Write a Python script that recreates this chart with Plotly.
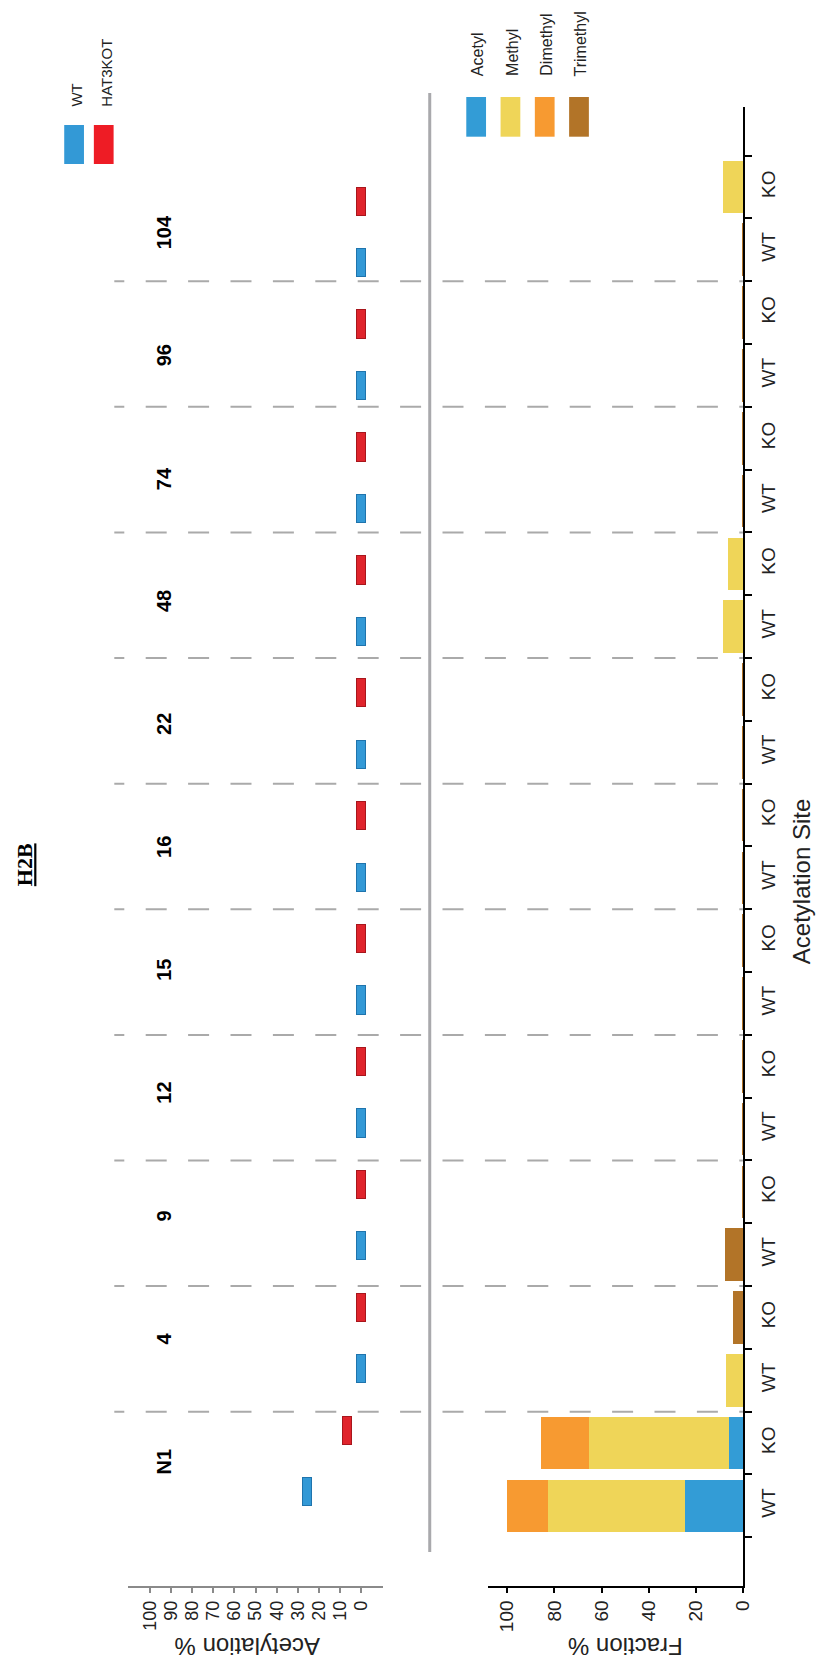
import plotly.graph_objects as go

# ---- data ---------------------------------------------------------------
sites = ["N1", "4", "9", "12", "15", "16", "22", "48", "74", "96", "104"]
genotypes = ["WT", "KO"]

# acetylation level per site (%)
acetylation_wt = [25.2, 0, 0, 0, 0, 0, 0, 0, 0, 0, 0]
acetylation_ko = [6.4, 0, 0, 0, 0, 0, 0, 0, 0, 0, 0]

# modification fractions per site (%)
acetyl_wt = [24.8, 0, 0, 0, 0, 0, 0, 0, 0, 0, 0]
acetyl_ko = [6.0, 0, 0, 0, 0, 0, 0, 0, 0, 0, 0]
methyl_wt = [57.8, 7.2, 0, 0, 0, 0, 0, 8.6, 0, 0, 0]
methyl_ko = [59.5, 0, 0, 0, 0, 0, 0, 6.4, 0, 0, 8.6]
dimethyl_wt = [17.5, 0, 0, 0, 0, 0, 0, 0, 0, 0, 0]
dimethyl_ko = [20.3, 0, 0, 0, 0, 0, 0, 0, 0, 0, 0]
trimethyl_wt = [0, 0, 7.7, 0.5, 0.5, 0.5, 0.5, 0, 0.5, 0.5, 0.5]
trimethyl_ko = [0, 4.3, 0.5, 0.5, 0.5, 0.5, 0.5, 0, 0.5, 0.5, 0]

acet_ticks = list(range(0, 101, 10))
frac_ticks = list(range(0, 101, 20))

# ---- style --------------------------------------------------------------
W, H = 825, 1659
BLUE, BLUE_EDGE = "#3399d6", "#1f74ad"
RED, RED_EDGE = "#e0242c", "#a8161c"
LEG_RED = "#ee1c25"
MOD_COLORS = {"Acetyl": "#339cd6", "Methyl": "#efd558",
              "Dimethyl": "#f79a31", "Trimethyl": "#b27428"}
NARROW = "Liberation Sans Narrow, Arial Narrow, Liberation Sans, Arial"
SANS = "Liberation Sans, Arial"
INK = "#222222"


def px(x):
    return x / W


def py(y):
    return 1 - y / H


# interleave WT / KO per site for the fraction panel
def interleave(a, b):
    out = []
    for u, v in zip(a, b):
        out += [u, v]
    return out


n_sites = len(sites)
row_pos = list(range(2 * n_sites))
row_text = [g for _ in sites for g in genotypes]

fig = go.Figure()

# acetylation markers (thin floating bars centred on the value)
thick = 4.2
site_idx = list(range(n_sites))
for vals, off, fill, edge, name in [
    (acetylation_wt, -0.25, BLUE, BLUE_EDGE, "WT"),
    (acetylation_ko, 0.25, RED, RED_EDGE, "HAT3KOT"),
]:
    fig.add_trace(go.Bar(
        orientation="h", name=name,
        y=[i + off for i in site_idx],
        x=[thick] * n_sites,
        base=[v - thick / 2 for v in vals],
        width=0.23,
        marker=dict(color=fill, line=dict(color=edge, width=1)),
        xaxis="x", yaxis="y", showlegend=False,
    ))

# stacked modification fractions
for name, wt, ko in [
    ("Acetyl", acetyl_wt, acetyl_ko),
    ("Methyl", methyl_wt, methyl_ko),
    ("Dimethyl", dimethyl_wt, dimethyl_ko),
    ("Trimethyl", trimethyl_wt, trimethyl_ko),
]:
    fig.add_trace(go.Bar(
        orientation="h", name=name,
        y=row_pos, x=interleave(wt, ko),
        width=0.84,
        marker=dict(color=MOD_COLORS[name], line=dict(width=0)),
        xaxis="x2", yaxis="y2", showlegend=False,
    ))

dom_y = [py(1585.7), py(107)]

fig.update_layout(
    width=W, height=H,
    margin=dict(l=0, r=0, t=0, b=0),
    paper_bgcolor="white", plot_bgcolor="rgba(0,0,0,0)",
    barmode="stack", bargap=0,
    showlegend=False,
    xaxis=dict(
        domain=[px(130), px(388)], range=[110.1, -10.3], anchor="y",
        showline=True, linecolor="#8a8a8a", linewidth=1.5,
        ticks="outside", ticklen=6, tickwidth=1.5, tickcolor="#8a8a8a",
        tickmode="array", tickvals=acet_ticks, tickangle=-90,
        tickfont=dict(family=NARROW, size=18, color=INK),
        showgrid=False, zeroline=False,
    ),
    yaxis=dict(
        domain=dom_y, range=[-1.011, 11.02], anchor="x",
        visible=False, showgrid=False, zeroline=False,
    ),
    xaxis2=dict(
        domain=[px(494), px(752.3)], range=[108.1, 0], anchor="y2",
        showline=True, linecolor="black", linewidth=2.3,
        ticks="outside", ticklen=5, tickwidth=2, tickcolor="black",
        tickmode="array", tickvals=frac_ticks, tickangle=-90,
        tickfont=dict(family=NARROW, size=19, color=INK),
        showgrid=False, zeroline=False,
    ),
    yaxis2=dict(
        domain=dom_y, range=[-1.271, 22.275], anchor="x2", side="right",
        showline=True, linecolor="black", linewidth=2.3,
        # invisible major ticks keep the WT/KO labels clear of the boundary ticks
        ticks="outside", ticklen=7, tickcolor="rgba(0,0,0,0)",
        tickmode="array", tickvals=row_pos, ticktext=row_text,
        tickangle=-90, tickfont=dict(family=NARROW, size=19, color=INK),
        minor=dict(tickmode="array",
                   tickvals=[i - 0.5 for i in range(2 * n_sites + 1)],
                   ticks="outside", ticklen=7, tickwidth=2,
                   tickcolor="black", showgrid=False),
        showgrid=False, zeroline=False,
    ),
)

shapes = []
# dashed separators between sites, across both panels
for s in range(1, n_sites):
    b = 2 * s - 0.5
    shapes.append(dict(
        type="line", xref="paper", yref="y2",
        x0=px(115.7), x1=px(752), y0=b, y1=b,
        line=dict(color="#aaaaaa", width=2, dash="10px,21.4px,11px,0px"),
    ))
# panel divider
shapes.append(dict(type="line", xref="paper", yref="paper",
                   x0=px(435), x1=px(435), y0=py(1552), y1=py(93),
                   line=dict(color="#a9a9ac", width=3)))
# legend swatches
for x0, col in [(65, BLUE), (95, LEG_RED)]:
    shapes.append(dict(type="rect", xref="paper", yref="paper",
                       x0=px(x0), x1=px(x0 + 20), y0=py(164), y1=py(125),
                       fillcolor=col, line=dict(width=0)))
for i, (name, col) in enumerate(MOD_COLORS.items()):
    x0 = 472 + i * 34.7
    shapes.append(dict(type="rect", xref="paper", yref="paper",
                       x0=px(x0), x1=px(x0 + 20), y0=py(136.7), y1=py(97),
                       fillcolor=col, line=dict(width=0)))
fig.update_layout(shapes=shapes)

ann = []
# site labels
for i, s in enumerate(sites):
    ann.append(dict(
        text=f"<b>{s}</b>", xref="paper", yref="y", x=px(166), y=i,
        textangle=-90, showarrow=False, xanchor="center", yanchor="middle",
        font=dict(family=NARROW, size=20, color="black"),
    ))
# legend labels
for x, t in [(77, "WT"), (107, "HAT3KOT")]:
    ann.append(dict(text=t, xref="paper", yref="paper", x=px(x), y=py(109),
                    textangle=-90, showarrow=False, xanchor="center",
                    yanchor="bottom", font=dict(family=SANS, size=15, color=INK)))
for i, name in enumerate(MOD_COLORS):
    ann.append(dict(text=name, xref="paper", yref="paper",
                    x=px(484 + i * 34.7), y=py(78),
                    textangle=-90, showarrow=False, xanchor="center",
                    yanchor="bottom", font=dict(family=SANS, size=16, color=INK)))
# axis titles
ann.append(dict(text="Acetylation %", xref="paper", yref="paper",
                x=px(250), y=py(1647), textangle=180, showarrow=False,
                xanchor="center", yanchor="middle",
                font=dict(family=SANS, size=24, color=INK)))
ann.append(dict(text="Fraction %", xref="paper", yref="paper",
                x=px(632.5), y=py(1647), textangle=180, showarrow=False,
                xanchor="center", yanchor="middle",
                font=dict(family=SANS, size=24, color=INK)))
ann.append(dict(text="Acetylation Site", xref="paper", yref="paper",
                x=px(812), y=py(882), textangle=-90, showarrow=False,
                xanchor="center", yanchor="middle",
                font=dict(family=SANS, size=24, color=INK)))
# panel title
ann.append(dict(text="<b><u>H2B</u></b>", xref="paper", yref="paper",
                x=px(25), y=py(864.5), textangle=-90, showarrow=False,
                xanchor="center", yanchor="middle",
                font=dict(family="Liberation Serif, Times New Roman, serif",
                          size=22, color="black")))
fig.update_layout(annotations=ann)

fig.write_html("out.html")
